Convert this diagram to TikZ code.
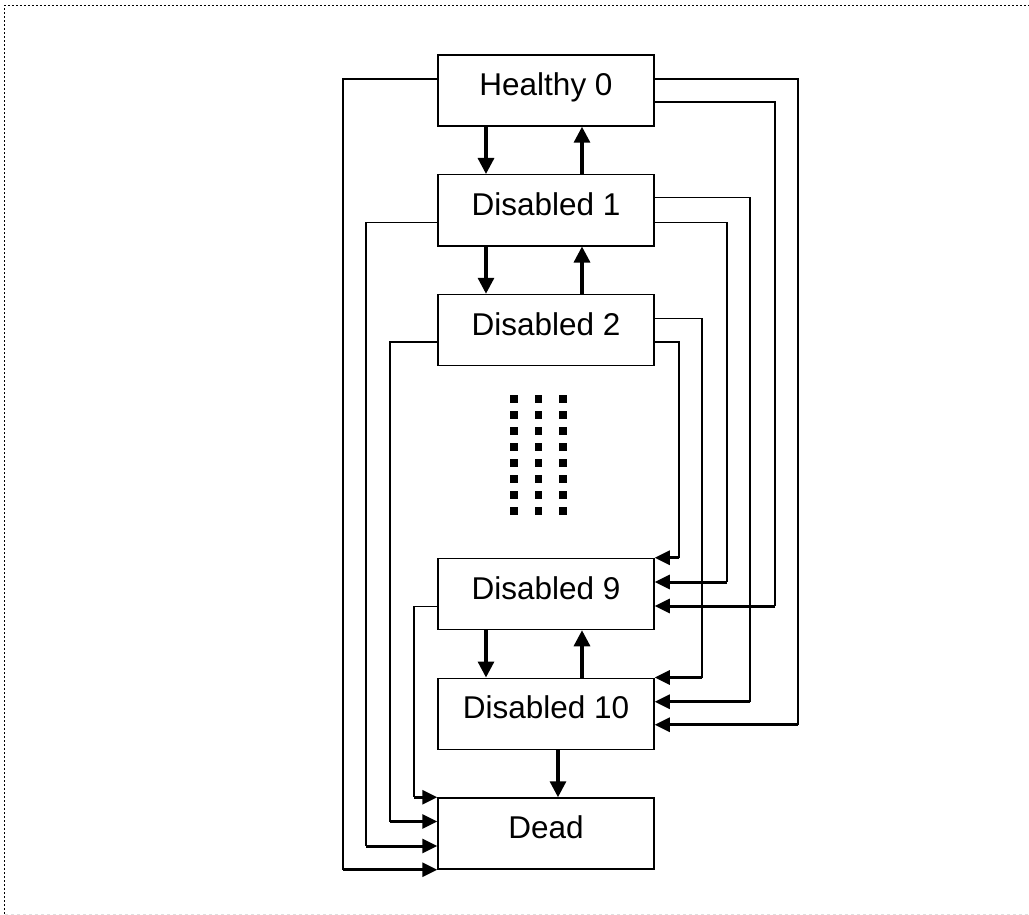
\documentclass[tikz,border=0pt]{standalone}
\usepackage{fontspec}
\setmainfont{Liberation Sans}
\usetikzlibrary{arrows.meta}

\begin{document}
\begin{tikzpicture}[->, >={Triangle[length=16pt,width=16pt]}, x=1pt, y=1pt, node distance=119.75pt]
    \tikzstyle{box}=[draw=black,line width=1.5pt,minimum width=216pt,minimum height=71pt,inner sep=0pt,text height=22pt,text depth=12pt,font=\fontsize{31.5}{36}\selectfont]
    \tikzstyle{link}=[-,line width=1.4pt]
    \tikzstyle{feed}=[-{Triangle[length=15pt,width=14pt]},line width=3pt]
    \tikzstyle{move}=[->,line width=3.2pt]
    \useasboundingbox (0,0) rectangle (1029,-915);
    % frame
    \draw[-,line width=1.3pt,dash pattern=on 2pt off 2pt] (4.5,-914) -- (4.5,-5.5) -- (1029,-5.5);
    \draw[-,gray!25,line width=1pt,dash pattern=on 3pt off 3pt] (5,-914) -- (1029,-914);
    % states
    \node[box]    (s0) at (546,-90.5)	{Healthy 0};
    \node[box]    (s1)[below of=s0]		{Disabled 1};
    \node[box]    (s2)[below of=s1]		{Disabled 2};
    \node[box]    (s9)[below of=s2,node distance=264pt]	{Disabled 9};
    \node[box]    (s10)[below of=s9]		{Disabled 10};
    \node[box]    (sd)[below of=s10]		{Dead};
    % dots between 2 and 9
    \foreach \i in {0,1,2}
      \foreach \j in {0,...,7}
        \fill ({510.4+24.2*\i},{-403.2-16*\j}) rectangle +(7.8,7.8);
    % columns for the long connectors
    \coordinate (r0a) at (798,0);
    \coordinate (r0b) at (775,0);
    \coordinate (r1a) at (750,0);
    \coordinate (r1b) at (727,0);
    \coordinate (r2a) at (702,0);
    \coordinate (r2b) at (679,0);
    \coordinate (l0) at (343,0);
    \coordinate (l1) at (366,0);
    \coordinate (l2) at (390,0);
    \coordinate (l9) at (414,0);
    % where they come in
    \coordinate (s9in0) at (s9.north east);
    \coordinate (s9in1) at ([yshift=12pt]s9.east);
    \coordinate (s9in2) at ([yshift=-12pt]s9.east);
    \coordinate (s10in0) at (s10.north east);
    \coordinate (s10in1) at ([yshift=12pt]s10.east);
    \coordinate (s10in2) at ([yshift=-11pt]s10.east);
    \coordinate (sdin0) at (sd.north west);
    \coordinate (sdin1) at ([yshift=12pt]sd.west);
    \coordinate (sdin2) at ([yshift=-12.5pt]sd.west);
    \coordinate (sdin3) at (sd.south west);
    % one step up / down
    \draw[move] ([xshift=-60pt]s0.south) -- ([xshift=-60pt]s1.north);
    \draw[move] ([xshift=36pt]s1.north) -- ([xshift=36pt]s0.south);
    \draw[move] ([xshift=-60pt]s1.south) -- ([xshift=-60pt]s2.north);
    \draw[move] ([xshift=36pt]s2.north) -- ([xshift=36pt]s1.south);
    \draw[move] ([xshift=-60pt]s9.south) -- ([xshift=-60pt]s10.north);
    \draw[move] ([xshift=36pt]s10.north) -- ([xshift=36pt]s9.south);
    \draw[move] ([xshift=12pt]s10.south) -- ([xshift=12pt]sd.north);
    % right side
    \draw[link] ([yshift=11.5pt]s0.east) -| (r0a |- s10in2) edge[feed] (s10in2);
    \draw[link] ([yshift=-11.5pt]s0.east) -| (r0b |- s9in2) edge[feed] (s9in2);
    \draw[link] ([yshift=12.5pt]s1.east) -| (r1a |- s10in1) edge[feed] (s10in1);
    \draw[link] ([yshift=-12pt]s1.east) -| (r1b |- s9in1) edge[feed] (s9in1);
    \draw[link] ([yshift=11.5pt]s2.east) -| (r2a |- s10in0) edge[feed] (s10in0);
    \draw[link] ([yshift=-12pt]s2.east) -| (r2b |- s9in0) edge[feed] (s9in0);
    % left side, to dead
    \draw[link] ([yshift=11.5pt]s0.west) -| (l0 |- sdin3) edge[feed] (sdin3);
    \draw[link] ([yshift=-12pt]s1.west) -| (l1 |- sdin2) edge[feed] (sdin2);
    \draw[link] ([yshift=-12pt]s2.west) -| (l2 |- sdin1) edge[feed] (sdin1);
    \draw[link] ([yshift=-12.5pt]s9.west) -| (l9 |- sdin0) edge[feed] (sdin0);
\end{tikzpicture}
\end{document}
